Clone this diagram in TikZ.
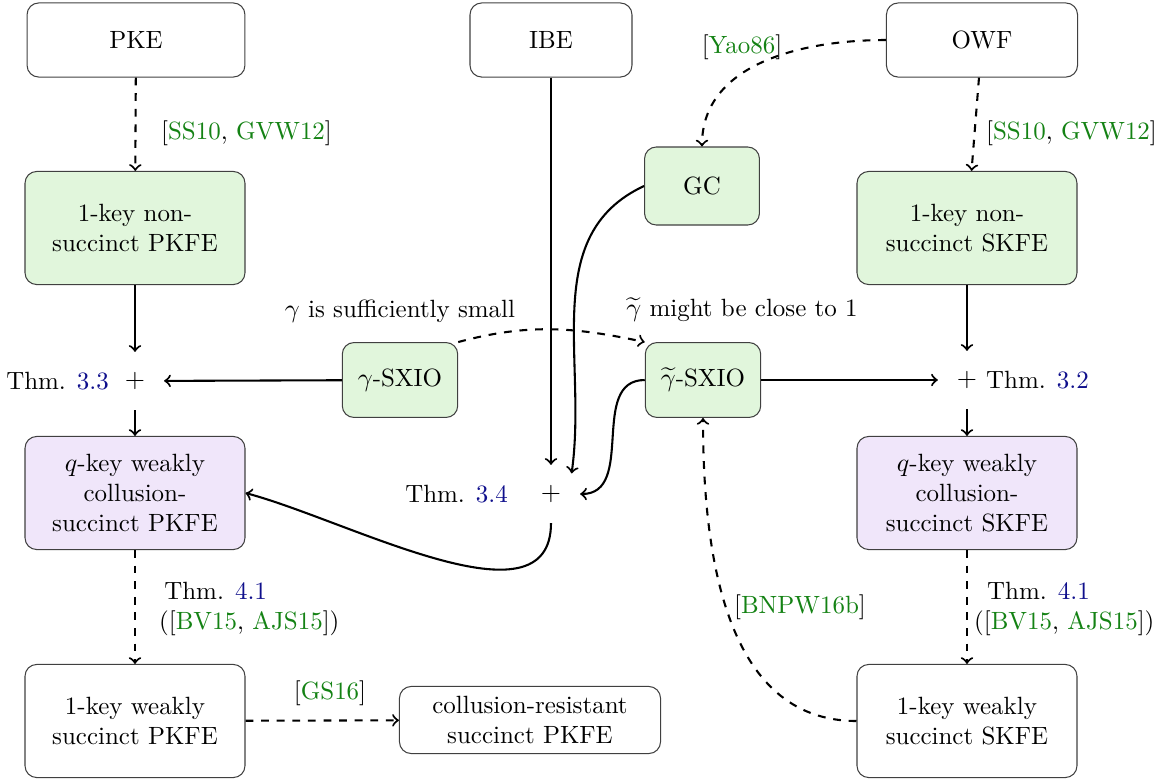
\documentclass[tikz,border=0pt]{standalone}
\usetikzlibrary{calc}
\definecolor{citegreen}{RGB}{20,130,20}
\definecolor{refblue}{RGB}{15,15,140}
\definecolor{boxgreen}{RGB}{225,246,220}
\definecolor{boxpurple}{RGB}{240,230,250}
\newcommand{\cg}[1]{\textcolor{citegreen}{#1}}
\newcommand{\rb}[1]{\textcolor{refblue}{#1}}
\begin{document}
\begin{tikzpicture}[x=0.3846pt,y=0.3846pt,
  font=\fontsize{9.6}{11.5}\selectfont,
  box/.style={draw=black!75, rounded corners=4.5pt, align=center, line width=0.4pt, inner sep=2pt},
  gbox/.style={box, fill=boxgreen},
  pbox/.style={box, fill=boxpurple},
  bigbox/.style={minimum width=84.6pt, minimum height=43.5pt},
  smallbox/.style={minimum width=44.4pt, minimum height=28.8pt},
  plusnode/.style={circle, minimum size=22pt, inner sep=0pt},
  arr/.style={->, thick},
  darr/.style={->, thick, dashed},
  lbl/.style={inner sep=1pt}]
\useasboundingbox (0,0) rectangle (1169,-780);

% top row
\node[box, minimum width=83.8pt, minimum height=28.5pt] (pke) at (136,-40) {PKE};
\node[box, minimum width=62.3pt, minimum height=28.5pt] (ibe) at (551,-40) {IBE};
\node[box, minimum width=73.5pt, minimum height=28.5pt] (owf) at (982,-40) {OWF};

% second row
\node[gbox, bigbox] (pke1) at (135,-228) {1-key non-\\succinct PKFE};
\node[gbox, minimum width=44.2pt, minimum height=30pt] (gc) at (702,-186) {GC};
\node[gbox, bigbox] (ske1) at (967,-228) {1-key non-\\succinct SKFE};

% SXIO row
\node[gbox, smallbox] (gsxio) at (400,-380) {$\gamma$-SXIO};
\node[gbox, smallbox] (tsxio) at (703,-380) {$\widetilde{\gamma}$-SXIO};
\node[plusnode] (plusL) at (135,-381) {$+$};
\node[plusnode] (plusR) at (967,-380) {$+$};
\node[plusnode] (plusM) at (551,-494) {$+$};

% q-key row
\node[pbox, bigbox] (qpk) at (135,-493) {$q$-key weakly\\collusion-\\succinct PKFE};
\node[pbox, bigbox] (qsk) at (967,-493) {$q$-key weakly\\collusion-\\succinct SKFE};

% bottom row
\node[box, bigbox] (wpk) at (135,-721) {1-key weakly\\succinct PKFE};
\node[box, minimum width=100.4pt, minimum height=25.8pt] (cr) at (530,-720) {collusion-resistant\\succinct PKFE};
\node[box, bigbox] (wsk) at (967,-721) {1-key weakly\\succinct SKFE};

% labels
\node[lbl, anchor=west] (l1) at (158,-133) {[\cg{SS10}, \cg{GVW12}]};
\node[lbl, anchor=west] (l2) at (983,-133) {[\cg{SS10}, \cg{GVW12}]};
\node[lbl] (l3) at (742,-47) {[\cg{Yao86}]};
\node[lbl] (l4) at (400,-311) {$\gamma$ is sufficiently small};
\node[lbl] (l5) at (742,-310) {$\widetilde{\gamma}$ might be close to 1};
\node[lbl, anchor=east] (t33) at (112,-381) {Thm. \rb{3.3}};
\node[lbl, anchor=west] (t32) at (983,-380) {Thm. \rb{3.2}};
\node[lbl, anchor=east] (t34) at (511,-494) {Thm. \rb{3.4}};
\node[lbl, anchor=west, align=left] (t41a) at (156,-609) {\hspace*{2pt}Thm. \rb{4.1}\\([\cg{BV15}, \cg{AJS15}])};
\node[lbl, anchor=west, align=left] (t41b) at (971,-609) {\hspace*{5pt}Thm. \rb{4.1}\\([\cg{BV15}, \cg{AJS15}])};
\node[lbl] (l6) at (800,-607) {[\cg{BNPW16b}]};
\node[lbl] (l7) at (330,-693) {[\cg{GS16}]};

% edges left column
\draw[darr] (pke) -- (pke1);
\draw[arr] (pke1) -- (plusL);
\draw[arr] (gsxio) -- (plusL);
\draw[arr] (plusL) -- (qpk);
\draw[darr] (qpk) -- (wpk);
\draw[darr] (wpk) -- (cr);

% right column
\draw[darr] (owf) -- (ske1);
\draw[arr] (ske1) -- (plusR);
\draw[arr] (tsxio) -- (plusR);
\draw[arr] (plusR) -- (qsk);
\draw[darr] (qsk) -- (wsk);

% middle
\draw[arr] (ibe) -- (plusM);
\draw[arr] (gc.west) to[out=205, in=82] (plusM.45);
\draw[arr] (tsxio.west) to[out=180, in=0, looseness=1.1] (plusM.east);
\draw[arr] (plusM.south) to[out=-90, in=-15, looseness=0.9] (qpk.east);
\draw[darr] (gsxio.north east) to[out=15, in=168] (tsxio.north west);
\draw[darr] (owf.west) to[out=180, in=90] (gc.north);
\draw[darr] (wsk.west) to[out=180, in=-90] (tsxio.south);
\end{tikzpicture}
\end{document}
